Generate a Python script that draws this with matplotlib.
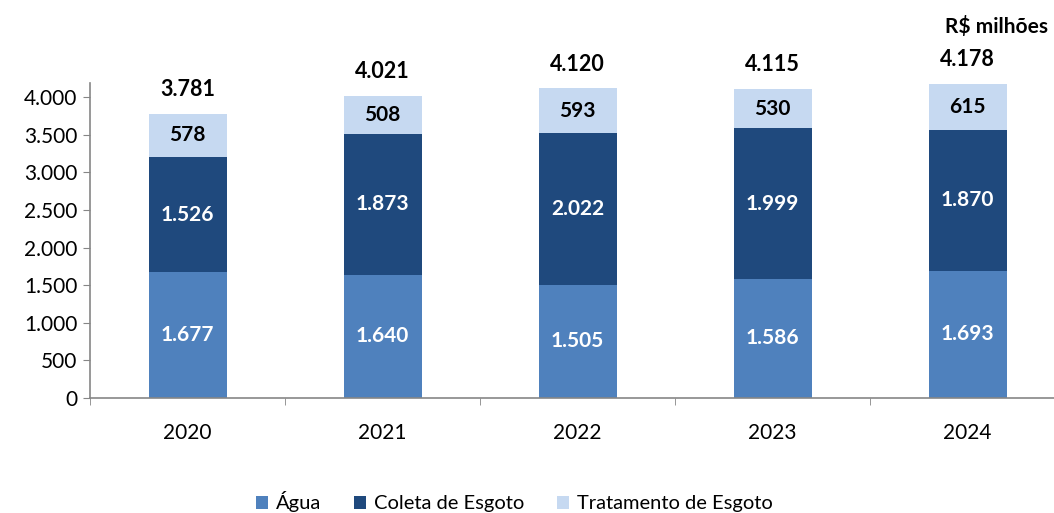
import numpy as np
import matplotlib.pyplot as plt
from matplotlib.ticker import FuncFormatter, FixedLocator

plt.rcParams['font.family'] = ['Lato', 'DejaVu Sans']

anos = ['2020', '2021', '2022', '2023', '2024']
agua = [1677, 1640, 1505, 1586, 1693]
coleta = [1526, 1873, 2022, 1999, 1870]
tratamento = [578, 508, 593, 530, 615]
totais = [3781, 4021, 4120, 4115, 4178]

cor_agua = '#4F81BD'
cor_coleta = '#1F497D'
cor_trat = '#C6D9F1'


def fmt_br(v):
    return '{:,.0f}'.format(v).replace(',', '.')


fig = plt.figure(figsize=(10.54, 5.13), dpi=100)
ax = fig.add_axes([90 / 1054, 115 / 513, 975 / 1054, 315 / 513])

x = np.arange(len(anos))
w = 0.4
b1 = ax.bar(x, agua, w, color=cor_agua, label='Água')
b2 = ax.bar(x, coleta, w, bottom=agua, color=cor_coleta, label='Coleta de Esgoto')
base3 = np.array(agua) + np.array(coleta)
b3 = ax.bar(x, tratamento, w, bottom=base3, color=cor_trat, label='Tratamento de Esgoto')

for i in range(len(anos)):
    ax.text(x[i], agua[i] / 2, fmt_br(agua[i]), ha='center', va='center',
            color='white', fontsize=15, fontweight='bold')
    ax.text(x[i], agua[i] + coleta[i] / 2, fmt_br(coleta[i]), ha='center',
            va='center', color='white', fontsize=15, fontweight='bold')
    ax.text(x[i], base3[i] + tratamento[i] / 2, fmt_br(tratamento[i]),
            ha='center', va='center', color='black', fontsize=15, fontweight='bold')
    ax.annotate(fmt_br(totais[i]), (x[i], base3[i] + tratamento[i]),
                xytext=(0, 24), textcoords='offset pixels', ha='center',
                va='center', fontsize=15.5, fontweight='bold')

ax.set_xlim(-0.5, 4.5)
ax.set_ylim(0, 4190)
ax.set_yticks(np.arange(0, 4001, 500))
ax.yaxis.set_major_formatter(FuncFormatter(lambda v, p: fmt_br(v)))
ax.set_xticks(x)
ax.set_xticklabels(anos)
ax.xaxis.set_minor_locator(FixedLocator(np.arange(-0.5, 5, 1)))
ax.tick_params(axis='x', which='major', length=0, pad=18, labelsize=15)
ax.tick_params(axis='x', which='minor', length=5, color='#868686', direction='out')
ax.tick_params(axis='y', length=5, color='#868686', labelsize=15, pad=4)

for s in ['top', 'right']:
    ax.spines[s].set_visible(False)
for s in ['left', 'bottom']:
    ax.spines[s].set_color('#868686')
    ax.spines[s].set_linewidth(1.2)

fig.text(945 / 1054, 1 - 27 / 513, 'R$ milhões', fontsize=15, fontweight='bold',
         ha='left', va='center')

fig.legend(handles=[b1, b2, b3], loc='center', bbox_to_anchor=(0.488, 1 - 502 / 513),
           ncol=3, frameon=False, fontsize=14.5, handlelength=0.6, handleheight=0.6,
           handletextpad=0.4, columnspacing=1.6)

plt.savefig('out.png', dpi=100)
